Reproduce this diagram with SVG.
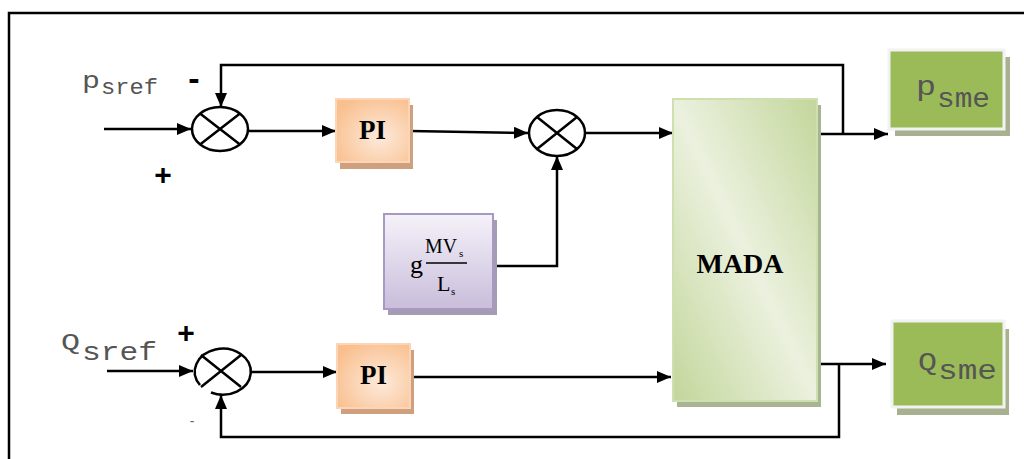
<svg xmlns="http://www.w3.org/2000/svg" width="1024" height="459" viewBox="0 0 1024 459">
<defs>
<marker id="arr" markerWidth="14" markerHeight="12" refX="14" refY="6" orient="auto" markerUnits="userSpaceOnUse">
<path d="M0,0 L14,6 L0,12 Z" fill="#000"/>
</marker>
<radialGradient id="gPI" cx="0.6" cy="0.6" r="0.7">
<stop offset="0" stop-color="#fdeadb"/>
<stop offset="1" stop-color="#f9bf8e"/>
</radialGradient>
<linearGradient id="gGain" x1="0" y1="0" x2="0" y2="1">
<stop offset="0" stop-color="#f5f2f9"/>
<stop offset="1" stop-color="#c9bddb"/>
</linearGradient>
<linearGradient id="gMada" x1="0" y1="1" x2="1" y2="0">
<stop offset="0" stop-color="#c3d69b"/>
<stop offset="0.5" stop-color="#ebf1de"/>
<stop offset="1" stop-color="#c3d69b"/>
</linearGradient>
</defs>
<style>
.ln{fill:none;stroke:#000;stroke-width:2.5}
.sum{fill:#fff;stroke:#000;stroke-width:2.5}
.pi{fill:url(#gPI);stroke:#fbd5b5;stroke-width:2}
.pish{fill:#cfa07e}
.bold{font-family:"Liberation Serif",serif;font-weight:bold;fill:#000}
.mono{font-family:"Liberation Mono",monospace;fill:#555}
.out{fill:#9bbb59;stroke:#f2f2f2;stroke-width:3}
.outsh{fill:#a7b08f}
.sign{font-family:"Liberation Sans",sans-serif;font-weight:bold;fill:#000}
</style>
<rect x="9" y="13" width="1030" height="460" fill="#fff" stroke="#000" stroke-width="2.5"/>

<g id="connectors">
<line class="ln" x1="104" y1="129" x2="191" y2="129" marker-end="url(#arr)"/>
<line class="ln" x1="248" y1="131" x2="336" y2="131" marker-end="url(#arr)"/>
<line class="ln" x1="410" y1="131" x2="528" y2="133" marker-end="url(#arr)"/>
<polyline class="ln" points="494,266 557,266 557,156" marker-end="url(#arr)"/>
<line class="ln" x1="585" y1="133" x2="673" y2="133" marker-end="url(#arr)"/>
<line class="ln" x1="817" y1="134" x2="888" y2="134" marker-end="url(#arr)"/>
<polyline class="ln" points="843,134 843,65 221,65 221,107" marker-end="url(#arr)"/>
<line class="ln" x1="107" y1="371" x2="193" y2="371" marker-end="url(#arr)"/>
<line class="ln" x1="250" y1="372" x2="337" y2="372" marker-end="url(#arr)"/>
<line class="ln" x1="410" y1="377" x2="671" y2="377" marker-end="url(#arr)"/>
<line class="ln" x1="817" y1="364" x2="886" y2="364" marker-end="url(#arr)"/>
<polyline class="ln" points="839,364 839,437 221,437 221,395" marker-end="url(#arr)"/>
</g>

<g id="sum1">
<ellipse class="sum" cx="220" cy="129" rx="28" ry="22"/>
<path class="ln" d="M200,113.5 L240,144.5 M240,113.5 L200,144.5"/>
</g>

<g id="sum2">
<ellipse class="sum" cx="557" cy="133" rx="28" ry="23"/>
<path class="ln" d="M537,117 L577,149 M577,117 L537,149"/>
</g>

<g id="sum3">
<path class="ln" d="M200,385 A28,23 0 1 1 211,392.5"/>
<path class="ln" d="M201,355 L241,387 M241,355 L201,387"/>
</g>

<g id="pi1">
<rect class="pish" x="340" y="105" width="73" height="64"/>
<rect class="pi" x="336" y="99" width="73" height="63"/>
<text class="bold" x="372.5" y="139" font-size="27" text-anchor="middle">PI</text>
</g>

<g id="pi2">
<rect class="pish" x="341" y="350" width="73" height="64"/>
<rect class="pi" x="337" y="344" width="73" height="64"/>
<text class="bold" x="373.5" y="384" font-size="27" text-anchor="middle">PI</text>
</g>

<g id="gain">
<rect x="388" y="220" width="109" height="95" fill="#a59bb3"/>
<rect x="384" y="214" width="109" height="95" fill="url(#gGain)" stroke="#a898c4" stroke-width="2"/>
<text font-family="Liberation Serif,serif" font-size="26" x="410" y="273">g</text>
<text font-family="Liberation Serif,serif" font-size="21" x="425" y="253" textLength="32" lengthAdjust="spacingAndGlyphs">MV</text>
<text font-family="Liberation Serif,serif" font-size="11" x="459" y="257">s</text>
<line x1="426" y1="263" x2="467" y2="263" stroke="#000" stroke-width="1.5"/>
<text font-family="Liberation Serif,serif" font-size="22" x="437" y="291">L</text>
<text font-family="Liberation Serif,serif" font-size="11" x="451" y="295">s</text>
</g>

<g id="mada">
<rect x="677" y="105" width="144" height="302" fill="#a9b592"/>
<rect x="673" y="99" width="144" height="302" fill="url(#gMada)" stroke="#cfe0b0" stroke-width="2"/>
<text class="bold" x="740" y="273" font-size="28" text-anchor="middle">MADA</text>
</g>

<g id="psme">
<rect class="outsh" x="895" y="57" width="115" height="79"/>
<rect class="out" x="889" y="50" width="115" height="79"/>
<text class="mono" x="916" y="95" font-size="27" fill="#222" textLength="20" lengthAdjust="spacingAndGlyphs">p</text>
<text class="mono" x="937" y="107" font-size="27" fill="#222" textLength="53" lengthAdjust="spacingAndGlyphs">sme</text>
</g>

<g id="qsme">
<rect class="outsh" x="897" y="329" width="112" height="86"/>
<rect class="out" x="892" y="321" width="112" height="86"/>
<text class="mono" x="918" y="370" font-size="26" fill="#222" textLength="19" lengthAdjust="spacingAndGlyphs">Q</text>
<text class="mono" x="938" y="379" font-size="27" fill="#222" textLength="59" lengthAdjust="spacingAndGlyphs">sme</text>
</g>

<g id="labels">
<text class="mono" x="82" y="88" font-size="23" textLength="18" lengthAdjust="spacingAndGlyphs">p</text>
<text class="mono" x="101" y="94" font-size="22" textLength="57" lengthAdjust="spacingAndGlyphs">sref</text>
<text class="mono" x="61" y="349" font-size="22" textLength="19" lengthAdjust="spacingAndGlyphs">Q</text>
<text class="mono" x="82" y="360" font-size="25" textLength="75" lengthAdjust="spacingAndGlyphs">sref</text>
<text class="sign" x="194" y="90" font-size="34" text-anchor="middle">-</text>
<text class="sign" x="163" y="185" font-size="30" text-anchor="middle">+</text>
<text class="sign" x="186" y="343" font-size="30" text-anchor="middle">+</text>
<text x="192" y="426" font-family="Liberation Sans,sans-serif" font-size="14" fill="#666" text-anchor="middle">-</text>
</g>
</svg>
